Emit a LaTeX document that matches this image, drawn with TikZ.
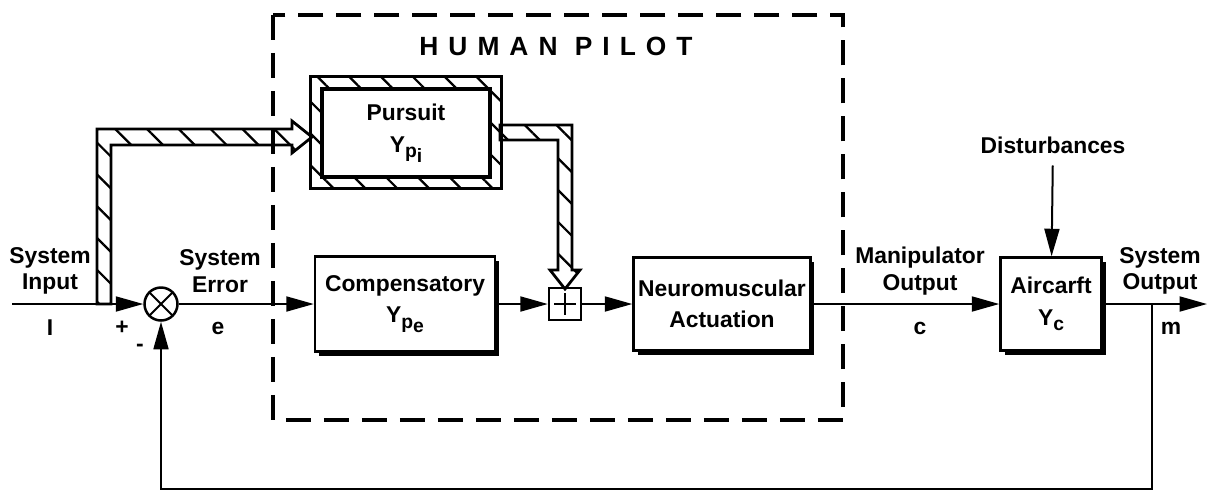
\documentclass[tikz,border=0pt]{standalone}
\usepackage{fontspec}
\setmainfont{Liberation Sans}
\usetikzlibrary{positioning,arrows.meta,shadows,patterns.meta,calc}
\newcommand{\lowsub}[1]{\raisebox{-0.45ex}{\fontsize{11}{11}\selectfont #1}}
\tikzset{
  every node/.style={font=\fontsize{13}{15}\selectfont\bfseries},
  lbl/.style={align=center, inner sep=1pt},
  block/.style={draw, line width=0.05cm, fill=white, align=center, inner sep=0pt,
    font=\fontsize{13}{18}\selectfont\bfseries,
    drop shadow={shadow xshift=0.08cm, shadow yshift=-0.08cm, fill=black, opacity=1}},
  pursuitbox/.style={draw, line width=0.05cm, fill=white, align=center, inner sep=0pt,
    font=\fontsize{13}{18}\selectfont\bfseries},
  hatchfill/.style={draw, line width=0.055cm,
    pattern={Lines[angle=-45, distance=0.45cm, line width=0.045cm]}},
  signal/.style={draw, line width=0.04cm},
  feedback/.style={draw, line width=0.035cm},
  pilotframe/.style={draw, line width=0.08cm, dash pattern=on 0.5cm off 0.26cm},
  sumnode/.style={circle, draw, line width=0.05cm, minimum size=0.66cm, inner sep=0pt,
    path picture={
      \draw[line width=0.04cm] (path picture bounding box.north west) -- (path picture bounding box.south east);
      \draw[line width=0.04cm] (path picture bounding box.south west) -- (path picture bounding box.north east);}},
  plusbox/.style={rectangle, draw, line width=0.05cm, fill=white, minimum size=0.64cm, inner sep=0pt,
    path picture={
      \draw[line width=0.045cm] ([yshift=-0.1cm]path picture bounding box.north) -- ([yshift=0.1cm]path picture bounding box.south);
      \draw[line width=0.045cm] ([xshift=0.1cm]path picture bounding box.west) -- ([xshift=-0.1cm]path picture bounding box.east);}},
  title/.style={font=\fontsize{15}{15}\selectfont\bfseries\addfontfeature{LetterSpace=38}}
}

\begin{document}
\begin{tikzpicture}[x=0.02cm, y=-0.02cm, >={Triangle[length=0.55cm, width=0.3cm]}]
  \useasboundingbox (0,0) rectangle (1209,491);

  % human pilot frame
  \draw[pilotframe] (273,15) rectangle (843,420);
  \node[title] (pilot) at (556,46) {HUMAN PILOT};

  % blocks
  \node[sumnode] (sum) at (161,304) {};
  \node[block, minimum width=3.6cm, minimum height=1.9cm] (comp) at (405,304) {Compensatory\\Y\lowsub{p\lowsub{e}}};
  \node[plusbox] (plus) at (565,304) {};
  \node[block, minimum width=3.54cm, minimum height=1.86cm] (neuro) at (722,304) {Neuromuscular\\Actuation};
  \node[block, minimum width=2.02cm, minimum height=1.86cm] (plant) at (1051,304) {Aircarft\\Y\lowsub{c}};
  \node[pursuitbox, minimum width=3.32cm, minimum height=1.72cm] (pursuit) at (406,133) {Pursuit\\Y\lowsub{p\lowsub{i}}};
  \path[hatchfill, even odd rule] ($(pursuit.north west)+(-11,-12)$) rectangle ($(pursuit.south east)+(11,11)$)
    (pursuit.north west) rectangle (pursuit.south east);

  % hatched paths
  \coordinate (tap) at (104,304);
  \path[hatchfill] ($(tap)+(-7,0)$) -- (97,129) -- (292,129) -- (292,121) -- (312,137)
    -- (292,153) -- (292,145) -- (111,145) -- ($(tap)+(7,0)$) -- cycle;
  \path[hatchfill] (500,125) -- (572,125) -- (572,270) -- (580,270) -- (565,289)
    -- (550,270) -- (558,270) -- (558,140) -- (500,140) -- cycle;

  % signals
  \coordinate (in) at (12,304);
  \coordinate (takeoff) at (1152,304);
  \coordinate (out) at (1207,304);
  \coordinate (fbc) at (1152,489);
  \draw[signal,->] (in) -- (sum);
  \draw[signal,->] (sum) -- (comp);
  \draw[signal,->] (comp) -- (plus);
  \draw[signal,->] (plus) -- (neuro);
  \draw[signal,->] (neuro) -- (plant);
  \draw[signal,->] (plant) -- (out);
  \draw[feedback,->] (takeoff) -- (fbc) -| (sum.south);

  \node[lbl] (dist) at (1053,145) {Disturbances};
  \draw[signal,->,shorten <=0.2cm] (dist) -- (plant);

  % labels
  \node[lbl] (inlbl) at (50,271) {System\\Input};
  \node[lbl] (errlbl) at (220,271) {System\\Error};
  \node[lbl] (manlbl) at (920,271) {Manipulator\\Output};
  \node[lbl] (outlbl) at (1160,271) {System\\Output};
  \node[lbl] (isym) at (50,328) {I};
  \node[lbl] (plussym) at (122,328) {+};
  \node[lbl] (minussym) at (140,348) {-};
  \node[lbl] (esym) at (218,328) {e};
  \node[lbl] (csym) at (920,328) {c};
  \node[lbl] (msym) at (1171,328) {m};
\end{tikzpicture}
\end{document}
